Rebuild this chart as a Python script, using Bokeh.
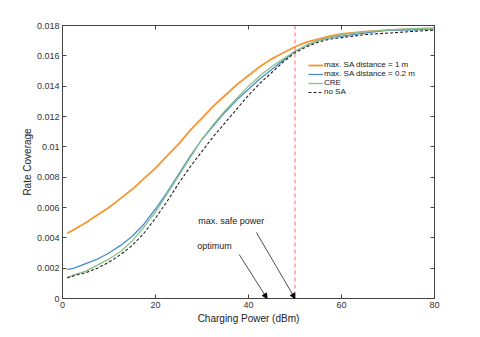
from bokeh.plotting import figure
from bokeh.models import (LinearAxis, FixedTicker, Span, Arrow, NormalHead, Label, Legend, LegendItem, Range1d)
from bokeh.embed import file_html
from bokeh.resources import INLINE

power = [1, 2.5, 5, 7.5, 10, 12.5, 15, 17.5, 20, 22.5, 25, 27.5, 30, 32.5, 35, 37.5, 40, 42.5, 45, 47.5, 50, 52.5, 55, 57.5, 60, 65, 70, 75, 80]
sa_1m = [0.0043, 0.00455, 0.0050, 0.0055, 0.0060, 0.0066, 0.0072, 0.0079, 0.0086, 0.0094, 0.0102, 0.0111, 0.0119, 0.0127, 0.0134, 0.0141, 0.0147, 0.0153, 0.0158, 0.0162, 0.0166, 0.0169, 0.0171, 0.0173, 0.01745, 0.0176, 0.0177, 0.01778, 0.01782]
sa_02m = [0.0019, 0.0020, 0.0023, 0.0026, 0.0030, 0.0035, 0.0041, 0.0049, 0.0059, 0.0070, 0.0082, 0.0094, 0.0105, 0.0114, 0.0123, 0.0131, 0.0138, 0.0145, 0.0151, 0.0157, 0.0163, 0.0167, 0.0170, 0.0172, 0.0173, 0.0175, 0.0177, 0.0177, 0.0178]
cre = [0.0014, 0.00155, 0.0018, 0.0022, 0.0026, 0.0031, 0.0038, 0.0047, 0.0057, 0.0069, 0.0081, 0.0093, 0.0105, 0.0115, 0.0124, 0.0132, 0.0140, 0.0147, 0.0153, 0.0158, 0.0163, 0.0167, 0.0170, 0.0172, 0.0174, 0.0176, 0.0177, 0.0178, 0.0178]
no_sa = [0.00135, 0.0015, 0.0017, 0.0020, 0.0024, 0.0029, 0.0035, 0.0043, 0.0053, 0.0064, 0.0076, 0.0087, 0.0097, 0.0107, 0.0116, 0.0125, 0.0134, 0.0142, 0.0149, 0.0156, 0.0162, 0.0166, 0.0169, 0.0171, 0.0172, 0.0174, 0.0175, 0.0176, 0.0177]

x_ticks = [0, 20, 40, 60, 80]
y_ticks = [0, 0.002, 0.004, 0.006, 0.008, 0.01, 0.012, 0.014, 0.016, 0.018]
y_tick_labels = ["0", "0.002", "0.004", "0.006", "0.008", "0.01", "0.012", "0.014", "0.016", "0.018"]

safe_power = 50
optimum_power = 44

FONT = "Liberation Sans"
AX = "#444444"

p = figure(width=472, height=329, output_backend="svg", toolbar_location=None,
           x_range=Range1d(0, 80), y_range=Range1d(0, 0.018),
           min_border_left=62, min_border_right=38, min_border_top=25, min_border_bottom=31,
           x_axis_label="Charging Power (dBm)", y_axis_label="Rate Coverage")
p.grid.visible = False
p.outline_line_color = AX
p.background_fill_color = "white"

bottom = p.below[0]
left = p.left[0]
bottom.ticker = FixedTicker(ticks=x_ticks)
left.ticker = FixedTicker(ticks=y_ticks)
left.major_label_overrides = {t: l for t, l in zip(y_ticks, y_tick_labels)}

top = LinearAxis(ticker=FixedTicker(ticks=x_ticks))
right = LinearAxis(ticker=FixedTicker(ticks=y_ticks))
p.add_layout(top, "above")
p.add_layout(right, "right")

for ax in [bottom, left, top, right]:
    ax.axis_line_color = AX
    ax.major_tick_line_color = AX
    ax.major_tick_in = 4
    ax.major_tick_out = 0
    ax.minor_tick_line_color = None
    ax.major_label_text_font = FONT
    ax.major_label_text_font_size = "9px"
    ax.major_label_text_color = "#333333"
    ax.axis_label_text_font = FONT
    ax.axis_label_text_font_size = "10px"
    ax.axis_label_text_font_style = "normal"
    ax.axis_label_text_color = "#222222"
    ax.major_label_standoff = 3
for ax in [top, right]:
    ax.major_label_text_color = None
    ax.major_label_text_alpha = 0
    ax.major_label_standoff = 0
    ax.axis_label = None
bottom.axis_label_standoff = 2
left.axis_label_standoff = 1

r1 = p.line(power, sa_1m, line_color="#f6962e", line_width=1.8)
r2 = p.line(power, sa_02m, line_color="#4a8ccc", line_width=1.3)
r3 = p.line(power, cre, line_color="#8cc08a", line_width=1.3)
r4 = p.line(power, no_sa, line_color="#222222", line_width=1.1, line_dash="3 2")

p.add_layout(Span(location=safe_power, dimension="height", line_color="#ff6b6b", line_dash="4 3", line_width=1))

p.add_layout(Arrow(end=NormalHead(size=5, fill_color="black", line_color="black"),
                   x_start=41.7, y_start=0.00435, x_end=safe_power, y_end=0,
                   line_color="#222222", line_width=0.8))
p.add_layout(Arrow(end=NormalHead(size=5, fill_color="black", line_color="black"),
                   x_start=38.0, y_start=0.0029, x_end=optimum_power, y_end=0,
                   line_color="#222222", line_width=0.8))
p.add_layout(Label(x=29.2, y=0.00514, text="max. safe power", text_font=FONT, text_font_size="9px",
                   text_baseline="middle", text_color="#222222"))
p.add_layout(Label(x=29.0, y=0.00343, text="optimum", text_font=FONT, text_font_size="9px",
                   text_baseline="middle", text_color="#222222"))

legend = Legend(items=[LegendItem(label="max. SA distance = 1 m", renderers=[r1]),
                       LegendItem(label="max. SA distance = 0.2 m", renderers=[r2]),
                       LegendItem(label="CRE", renderers=[r3]),
                       LegendItem(label="no SA", renderers=[r4])],
                location=(246, 202), glyph_width=15, glyph_height=8, label_height=8,
                spacing=0, padding=0, margin=0, label_standoff=1,
                label_text_font=FONT, label_text_font_size="8px", label_text_color="#222222",
                label_text_line_height=1.0,
                background_fill_alpha=0, border_line_alpha=0)
p.add_layout(legend, "center")

open("out.html", "w").write(file_html(p, INLINE))
